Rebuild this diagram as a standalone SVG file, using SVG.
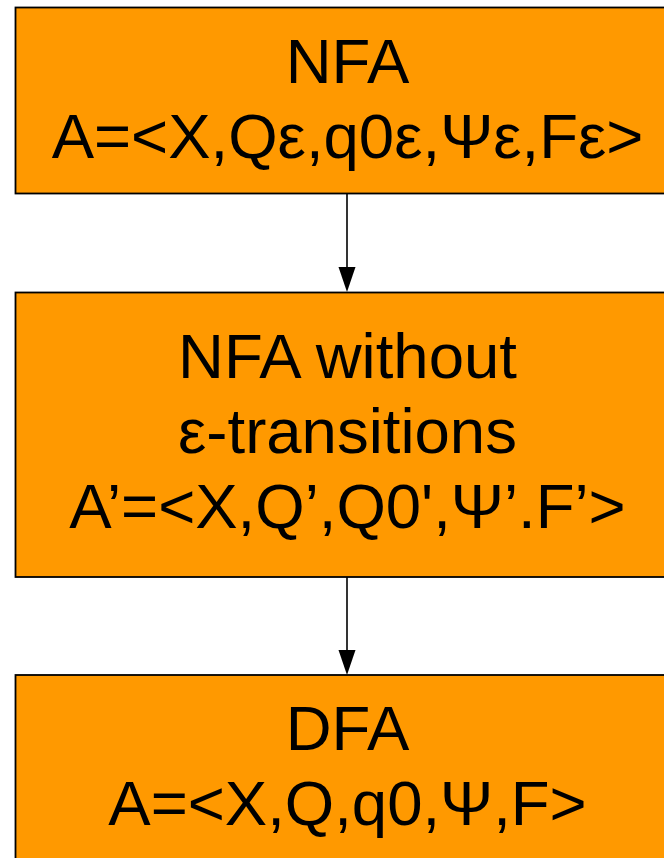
<svg xmlns="http://www.w3.org/2000/svg" width="664" height="858" viewBox="0 0 664 858">
  <style>
    .box { fill: #FF9900; stroke: #000000; stroke-width: 1.8; }
    .label { font-family: "Liberation Sans", Arial, sans-serif; font-size: 63.5px; fill: #000000; text-anchor: middle; }
    .edge { stroke: #000000; stroke-width: 1.6; fill: none; }
    .head { fill: #000000; }
  </style>

  <g id="connectors">
    <line class="edge" x1="347" y1="194" x2="347" y2="267"/>
    <polygon class="head" points="338.5,267 355.5,267 347,292"/>
    <line class="edge" x1="347" y1="577" x2="347" y2="650"/>
    <polygon class="head" points="338.5,650 355.5,650 347,675"/>
  </g>

  <g id="nfa">
    <rect class="box" x="15.5" y="7.5" width="664" height="186"/>
    <text class="label" x="347.5" y="83">NFA</text>
    <text class="label" x="347.5" y="158">A=&lt;X,Qε,q0ε,Ψε,Fε&gt;</text>
  </g>

  <g id="nfa-no-eps">
    <rect class="box" x="15.5" y="292.5" width="664" height="284.5"/>
    <text class="label" x="347.5" y="378">NFA without</text>
    <text class="label" x="347.5" y="453">ε-transitions</text>
    <text class="label" x="347.5" y="528">A’=&lt;X,Q’,Q0',Ψ’.F’&gt;</text>
  </g>

  <g id="dfa">
    <rect class="box" x="15.5" y="675" width="664" height="200"/>
    <text class="label" x="347.5" y="750">DFA</text>
    <text class="label" x="347.5" y="825">A=&lt;X,Q,q0,Ψ,F&gt;</text>
  </g>
</svg>
